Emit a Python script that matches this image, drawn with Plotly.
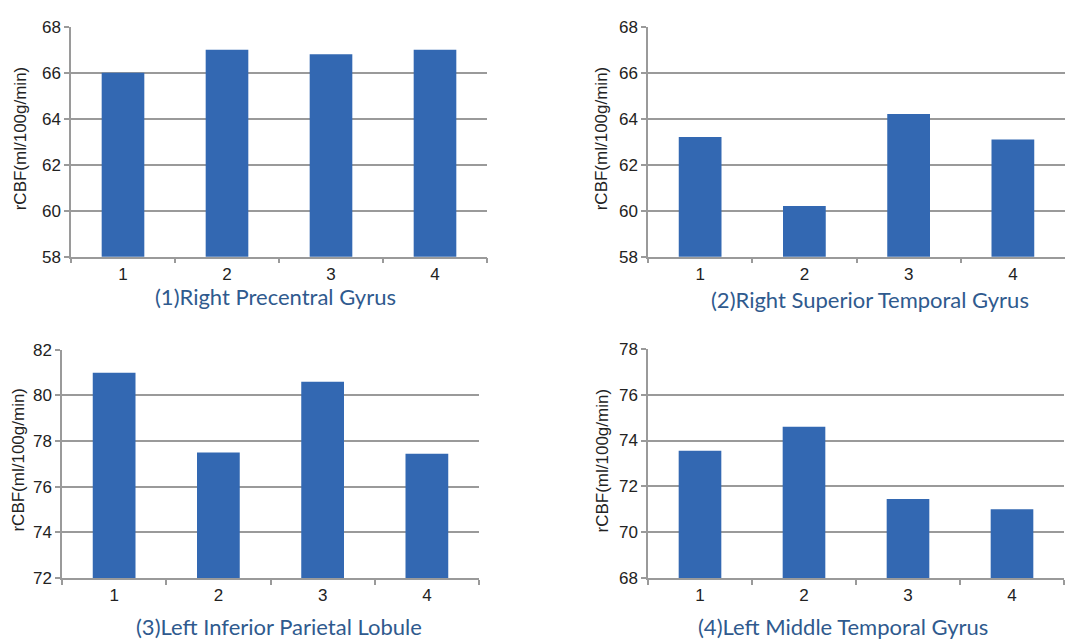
import plotly.graph_objects as go
from plotly.subplots import make_subplots

# rCBF values per region, conditions 1-4
conditions = ["1", "2", "3", "4"]
right_precentral = [66.0, 67.0, 66.8, 67.0]
right_sup_temporal = [63.2, 60.2, 64.2, 63.1]
left_inf_parietal = [81.0, 77.5, 80.6, 77.45]
left_mid_temporal = [73.55, 74.6, 71.45, 71.0]

titles = ["(1)Right Precentral Gyrus", "(2)Right Superior Temporal Gyrus",
          "(3)Left Inferior Parietal Lobule", "(4)Left Middle Temporal Gyrus"]
y_ranges = [[58, 68], [58, 68], [72, 82], [68, 78]]
y_label = "rCBF(ml/100g/min)"

W, H = 1084, 644
BAR_COLOR = "#3368b2"
GRID = "#9a9a9a"

fig = make_subplots(rows=2, cols=2)

series = [right_precentral, right_sup_temporal, left_inf_parietal, left_mid_temporal]
cells = [(1, 1), (1, 2), (2, 1), (2, 2)]
for vals, (r, c) in zip(series, cells):
    fig.add_trace(go.Bar(x=conditions, y=vals, marker=dict(color=BAR_COLOR, line=dict(width=0)),
                         showlegend=False), row=r, col=c)

# pixel boxes of the four plot areas: (left, right, top, bottom)
boxes = [(63, 479, 10, 247), (640, 1057, 10, 247), (54, 471, 343, 578), (640, 1056, 342, 578)]
title_pos = [(267, 288), (862, 291), (271, 628), (835, 628)]
ylab_pos = [(12, 125), (593, 125), (11, 456), (595, 457)]

for i, (l, r, t, b) in enumerate(boxes):
    ax = "" if i == 0 else str(i + 1)
    fig.layout["xaxis" + ax].update(
        domain=[l / W, r / W], type="category", tickson="boundaries",
        ticks="outside", ticklen=5, tickcolor=GRID, tickwidth=1.5,
        showline=True, linecolor=GRID, linewidth=1.5, showgrid=False,
        ticklabelstandoff=1,
        tickfont=dict(family="Liberation Sans, Arial", size=17, color="#222222"))
    fig.layout["yaxis" + ax].update(
        domain=[1 - b / H, 1 - t / H], range=y_ranges[i], dtick=2,
        ticks="outside", ticklen=5, tickcolor=GRID, tickwidth=1.5,
        showline=True, linecolor=GRID, linewidth=1.5,
        showgrid=True, gridcolor=GRID, gridwidth=1.5, zeroline=False,
        tickfont=dict(family="Liberation Sans, Arial", size=17, color="#222222"))

    tx, ty = title_pos[i]
    fig.add_annotation(text=titles[i], x=tx / W, y=1 - ty / H, xref="paper", yref="paper",
                       showarrow=False, xanchor="center", yanchor="middle",
                       font=dict(family="Lato, Open Sans", size=22, color="#2f5a8e"))
    lx, ly = ylab_pos[i]
    fig.add_annotation(text=y_label, x=lx / W, y=1 - ly / H, xref="paper", yref="paper",
                       showarrow=False, textangle=-90, xanchor="center", yanchor="middle",
                       font=dict(family="Liberation Sans, Arial", size=17, color="#222222"))

fig.update_layout(width=W, height=H, margin=dict(l=0, r=0, t=0, b=0),
                  bargap=0.59, plot_bgcolor="white", paper_bgcolor="white")

fig.write_html("out.html")
